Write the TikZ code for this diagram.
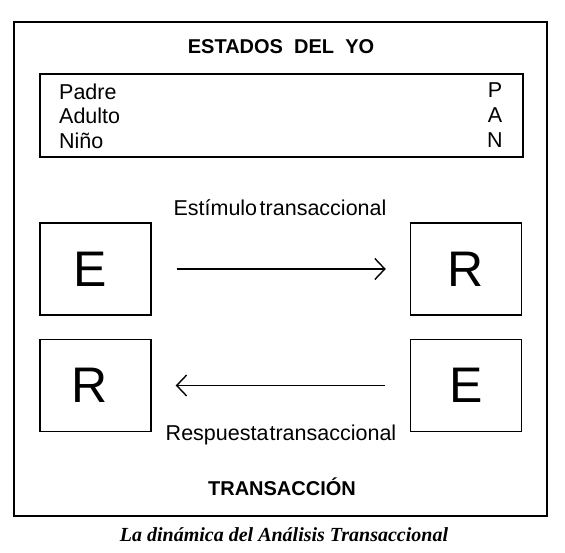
\documentclass[tikz,border=0pt]{standalone}
\usepackage{fontspec}
\setmainfont{Liberation Sans}
\newfontfamily\capfont{Liberation Serif}
\usetikzlibrary{arrows.meta}
\tikzset{
  frame/.style    = {draw, line width=1.8pt},
  statebox/.style = {draw, line width=1.4pt},
  letterbox/.style= {draw, line width=1.4pt, minimum width=111pt, minimum height=92pt,
                     inner sep=0pt, font=\fontsize{50}{50}\selectfont},
  heading/.style  = {font=\fontsize{20}{22}\selectfont\bfseries, inner sep=0pt},
  plain/.style    = {font=\fontsize{21.5}{23}\selectfont, inner sep=0pt},
  flow/.style     = {-{Straight Barb[length=10pt,width=21pt,line width=1.4pt]},
                     line width=1.4pt, shorten >=24pt, shorten <=25pt},
}
\newcommand{\leftletter}[1]{#1\kern11pt}
\begin{document}
\begin{tikzpicture}[x=1pt,y=-1pt]
  \useasboundingbox[fill=white] (0,0) rectangle (565,553);

  % outer frame and ego states
  \draw[frame] (14,22) rectangle (547,516);
  \node[heading] (yo) at (281,47) {ESTADOS\ \ DEL\ \ YO};
  \draw[statebox] (40,74) rectangle (523,157);
  \node[plain, anchor=base west] (padre)  at (59,100) {Padre};
  \node[plain, anchor=base west] (adulto) at (59,124) {Adulto};
  \node[plain, anchor=base west] (nino)   at (59,149) {Niño};
  \node[plain, anchor=base] (p) at (495,98)  {P};
  \node[plain, anchor=base] (a) at (495,123) {A};
  \node[plain, anchor=base] (n) at (495,148) {N};

  % transaction
  \node[letterbox] (eA) at (95.5,269)   {\leftletter{E}};
  \node[letterbox] (rA) at (95.5,385.5) {\leftletter{R}};
  \node[letterbox] (rB) at (466,269)    {R};
  \node[letterbox] (eB) at (466,385.5)  {E};
  \draw[flow] (eA.east) -- (rB.west);
  \draw[flow] (eB.west) -- (rA.east);
  \node[plain] (estimulo)  at (280,208) {Estímulo\hspace{0.12em}transaccional};
  \node[plain] (respuesta) at (281,435) {Respuesta\hspace{0.05em}transaccional};

  \node[heading] (trans) at (282,487) {TRANSACCIÓN};
  \node[font=\capfont\fontsize{20}{22}\selectfont\bfseries\itshape, inner sep=0pt]
    (caption) at (284,535) {La dinámica del Análisis Transaccional};
\end{tikzpicture}
\end{document}
